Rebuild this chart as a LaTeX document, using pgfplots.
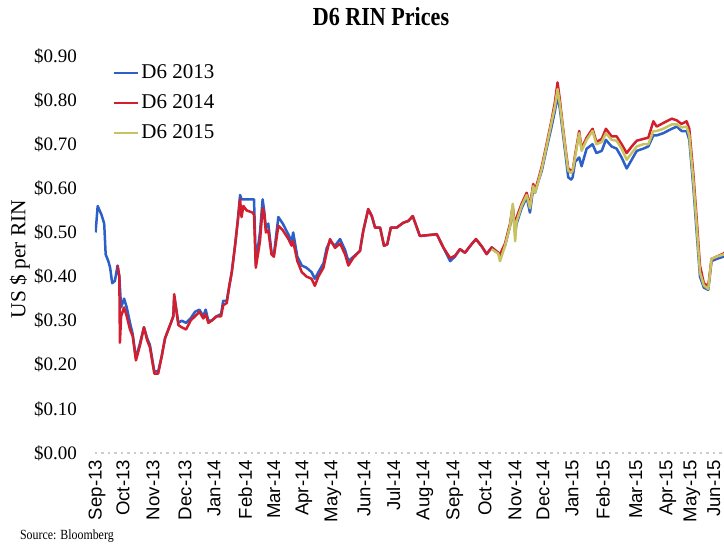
\documentclass[border=0pt]{standalone}
\usepackage{fontspec}
\setmainfont{Liberation Serif}
\newfontfamily\condserif[FakeStretch=0.85]{Liberation Serif}
\newfontfamily\sansf{Liberation Sans}
\usepackage{pgfplots}
\pgfplotsset{compat=1.18}
\usepackage{pgfplotstable}
\definecolor{cA}{RGB}{45,95,200}
\definecolor{cB}{RGB}{210,30,45}
\definecolor{cC}{RGB}{200,195,95}

\pgfplotstableread{
x y
0.02 0.50
0.09 0.56
0.22 0.54
0.31 0.52
0.36 0.45
0.45 0.435
0.51 0.42
0.58 0.385
0.67 0.39
0.76 0.425
0.82 0.40
0.88 0.33
0.98 0.35
1.07 0.33
1.18 0.295
1.27 0.27
1.38 0.215
1.52 0.25
1.65 0.285
1.76 0.26
1.85 0.245
2.00 0.185
2.13 0.185
2.25 0.22
2.36 0.26
2.53 0.29
2.64 0.31
2.67 0.355
2.81 0.295
2.92 0.30
3.07 0.295
3.22 0.305
3.37 0.32
3.52 0.325
3.65 0.31
3.73 0.325
3.82 0.30
3.93 0.30
4.10 0.31
4.25 0.315
4.32 0.345
4.44 0.345
4.53 0.38
4.61 0.41
4.72 0.47
4.81 0.525
4.89 0.585
4.94 0.575
5.00 0.575
5.11 0.575
5.31 0.575
5.36 0.575
5.42 0.43
5.56 0.50
5.65 0.575
5.70 0.55
5.76 0.51
5.84 0.52
5.95 0.455
6.03 0.45
6.18 0.535
6.33 0.52
6.52 0.495
6.63 0.48
6.68 0.50
6.82 0.445
6.97 0.425
7.13 0.42
7.30 0.41
7.41 0.395
7.53 0.41
7.70 0.43
7.81 0.465
7.92 0.48
8.09 0.47
8.26 0.485
8.43 0.46
8.54 0.435
8.71 0.445
8.93 0.458
9.04 0.503
9.21 0.553
9.33 0.537
9.44 0.511
9.61 0.511
9.74 0.47
9.85 0.473
9.97 0.511
10.17 0.511
10.39 0.522
10.56 0.526
10.71 0.537
10.95 0.492
11.52 0.496
11.74 0.466
11.97 0.435
12.13 0.445
12.30 0.462
12.47 0.454
12.64 0.469
12.84 0.485
13.03 0.469
13.20 0.451
13.37 0.466
13.59 0.454
13.65 0.445
13.82 0.47
13.99 0.515
14.08 0.555
14.16 0.50
14.21 0.52
14.38 0.555
14.55 0.58
14.66 0.545
14.77 0.60
14.83 0.59
14.94 0.615
15.06 0.64
15.22 0.69
15.39 0.74
15.50 0.775
15.59 0.81
15.67 0.78
15.76 0.73
15.87 0.67
15.95 0.625
16.05 0.62
16.10 0.625
16.18 0.66
16.32 0.67
16.40 0.65
16.57 0.69
16.77 0.70
16.90 0.68
17.08 0.685
17.22 0.71
17.41 0.695
17.58 0.69
17.75 0.67
17.92 0.645
18.09 0.665
18.26 0.685
18.48 0.69
18.65 0.695
18.82 0.72
18.93 0.72
19.15 0.725
19.44 0.735
19.61 0.74
19.77 0.73
19.94 0.73
20.03 0.71
20.17 0.60
20.28 0.50
20.39 0.40
20.52 0.375
20.67 0.37
20.78 0.435
20.95 0.44
21.18 0.445
21.30 0.45
}\dsixA

\pgfplotstableread{
x y
0.76 0.425
0.82 0.40
0.84 0.25
0.88 0.31
0.98 0.33
1.07 0.31
1.18 0.28
1.27 0.265
1.38 0.21
1.52 0.245
1.65 0.285
1.76 0.255
1.85 0.24
2.00 0.18
2.13 0.18
2.25 0.22
2.36 0.26
2.53 0.29
2.64 0.31
2.67 0.36
2.81 0.29
2.92 0.285
3.07 0.28
3.22 0.30
3.37 0.31
3.52 0.32
3.65 0.305
3.73 0.315
3.82 0.295
3.93 0.30
4.10 0.31
4.25 0.31
4.32 0.335
4.44 0.34
4.53 0.38
4.61 0.41
4.72 0.47
4.81 0.525
4.89 0.575
4.94 0.535
5.00 0.56
5.11 0.55
5.31 0.545
5.36 0.54
5.42 0.42
5.56 0.48
5.65 0.555
5.70 0.545
5.76 0.50
5.84 0.505
5.95 0.45
6.03 0.445
6.18 0.515
6.33 0.505
6.52 0.485
6.63 0.47
6.68 0.48
6.82 0.435
6.97 0.41
7.13 0.40
7.30 0.395
7.41 0.379
7.53 0.40
7.70 0.42
7.81 0.455
7.92 0.485
8.09 0.465
8.26 0.475
8.43 0.45
8.54 0.425
8.71 0.443
8.93 0.458
9.04 0.503
9.21 0.553
9.33 0.537
9.44 0.511
9.61 0.511
9.74 0.47
9.85 0.473
9.97 0.511
10.17 0.511
10.39 0.522
10.56 0.526
10.71 0.537
10.95 0.492
11.52 0.496
11.74 0.466
11.97 0.442
12.13 0.447
12.30 0.462
12.47 0.454
12.64 0.469
12.84 0.485
13.03 0.469
13.20 0.451
13.37 0.466
13.59 0.454
13.65 0.45
13.82 0.475
13.99 0.52
14.08 0.56
14.16 0.50
14.21 0.534
14.38 0.565
14.55 0.59
14.66 0.56
14.77 0.61
14.83 0.595
14.94 0.62
15.06 0.65
15.22 0.70
15.39 0.755
15.50 0.795
15.59 0.84
15.67 0.80
15.76 0.745
15.87 0.685
15.95 0.645
16.05 0.64
16.10 0.64
16.18 0.675
16.32 0.73
16.40 0.69
16.57 0.715
16.77 0.735
16.90 0.705
17.08 0.712
17.22 0.735
17.41 0.718
17.58 0.718
17.75 0.70
17.92 0.68
18.09 0.695
18.26 0.708
18.48 0.712
18.65 0.715
18.82 0.752
18.93 0.74
19.15 0.748
19.44 0.758
19.61 0.754
19.77 0.746
19.94 0.752
20.03 0.735
20.17 0.63
20.28 0.53
20.39 0.425
20.52 0.385
20.67 0.378
20.78 0.44
20.95 0.445
21.18 0.452
21.30 0.46
}\dsixB

\pgfplotstableread{
x y
13.37 0.462
13.59 0.452
13.65 0.435
13.82 0.47
13.99 0.515
14.08 0.565
14.16 0.48
14.21 0.525
14.38 0.56
14.55 0.585
14.66 0.555
14.77 0.605
14.83 0.59
14.94 0.615
15.06 0.645
15.22 0.695
15.39 0.75
15.50 0.785
15.59 0.825
15.67 0.79
15.76 0.74
15.87 0.68
15.95 0.64
16.05 0.635
16.10 0.64
16.18 0.67
16.32 0.725
16.40 0.685
16.57 0.71
16.77 0.73
16.90 0.70
17.08 0.705
17.22 0.725
17.41 0.71
17.58 0.708
17.75 0.69
17.92 0.665
18.09 0.68
18.26 0.695
18.48 0.70
18.65 0.70
18.82 0.73
18.93 0.73
19.15 0.735
19.44 0.745
19.61 0.745
19.77 0.738
19.94 0.74
20.03 0.72
20.17 0.615
20.28 0.515
20.39 0.41
20.52 0.38
20.67 0.372
20.78 0.44
20.95 0.445
21.18 0.45
21.30 0.455
}\dsixC

\begin{document}
\begin{tikzpicture}
\begin{axis}[
  scale only axis,
  width=314.5pt, height=198.5pt,
  xmin=0, xmax=21.2, ymin=0, ymax=0.9,
  axis line style={draw=none},
  major tick length=0pt,
  ytick={0,0.1,0.2,0.3,0.4,0.5,0.6,0.7,0.8,0.9},
  yticklabels={\$0.00,\$0.10,\$0.20,\$0.30,\$0.40,\$0.50,\$0.60,\$0.70,\$0.80,\$0.90},
  yticklabel style={font=\fontsize{9.5}{11}\selectfont, xshift=-5.5pt},
  xtick={0.07,0.94,1.95,3.03,4.01,5.06,6.03,7.04,8.02,9.07,10.06,11.12,12.13,13.14,14.16,15.10,16.08,17.12,18.23,19.31,20.12,20.86},
  xticklabels={Sep-13,Oct-13,Nov-13,Dec-13,Jan-14,Feb-14,Mar-14,Apr-14,May-14,Jun-14,Jul-14,Aug-14,Sep-14,Oct-14,Nov-14,Dec-14,Jan-15,Feb-15,Mar-15,Apr-15,May-15,Jun-15},
  xticklabel style={rotate=90, anchor=east, font=\sansf\fontsize{9.3}{11}\selectfont},
  legend style={at={(rel axis cs:0.028,0.985)}, anchor=north west, draw=none, fill=none,
    font=\fontsize{10.5}{12}\selectfont, inner sep=0pt, row sep=4.5pt,
    nodes={inner sep=1pt}},
  legend cell align=left,
  legend image code/.code={\draw[#1, line width=1.2pt] (0pt,0pt) -- (12pt,0pt);},
  every axis plot/.append style={line width=1.25pt, line join=round},
]
\addplot[gray!40, dotted, line width=0.8pt, forget plot] coordinates {(0,0) (21.2,0)};
\addplot[cA] table {\dsixA};
\addlegendentry{D6 2013}
\addplot[cB] table {\dsixB};
\addlegendentry{D6 2014}
\addplot[cC] table {\dsixC};
\addlegendentry{D6 2015}
\end{axis}
\node[font=\condserif\bfseries\fontsize{13}{15}\selectfont] at (143pt,218pt) {D6 RIN Prices};
\node[rotate=90, font=\fontsize{10.7}{12}\selectfont] at (-37.5pt,97pt) {US \$ per RIN};
\node[anchor=west, font=\condserif\fontsize{7}{9}\selectfont] at (-41pt,-41.5pt) {Source: Bloomberg};
\pgfresetboundingbox
\useasboundingbox (-47.5pt,-47.5pt) rectangle (314.5pt,226.5pt);
\end{tikzpicture}
\end{document}
